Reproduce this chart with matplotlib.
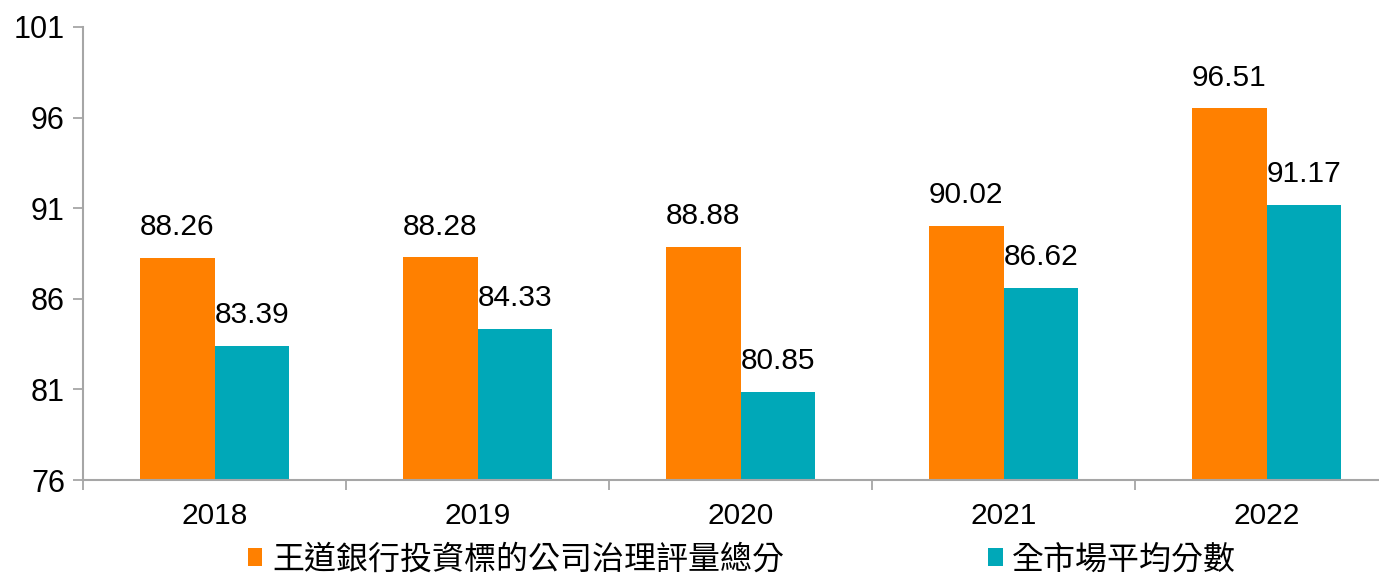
import matplotlib
matplotlib.use("Agg")
import matplotlib.pyplot as plt
from matplotlib.patches import Patch
import numpy as np

years = ["2018", "2019", "2020", "2021", "2022"]
bank_scores = [88.26, 88.28, 88.88, 90.02, 96.51]
market_scores = [83.39, 84.33, 80.85, 86.62, 91.17]
series_names = ["王道銀行投資標的公司治理評量總分", "全市場平均分數"]
yticks = [76, 81, 86, 91, 96, 101]

plt.rcParams['font.family'] = ['Liberation Sans', 'Noto Sans CJK TC', 'DejaVu Sans']

orange = "#FF8000"
teal = "#00A8B8"
grey = "#A6A6A6"

fig = plt.figure(figsize=(13.79, 5.76), dpi=100)
ax = fig.add_axes([83/1379, 96/576, (1398-83)/1379, (480-27)/576])

x = np.arange(len(years))
w = 0.285
ax.bar(x - w/2, [v - 76 for v in bank_scores], w, bottom=76, color=orange)
ax.bar(x + w/2, [v - 76 for v in market_scores], w, bottom=76, color=teal)

for xs, vals in ((x - w/2, bank_scores), (x + w/2, market_scores)):
    for xi, v in zip(xs, vals):
        ax.annotate(f"{v:.2f}", (xi, v), xytext=(0, 12), textcoords="offset points",
                    ha="center", va="bottom", fontsize=21.5, color="#000000")

ax.set_xlim(-0.5, len(years) - 0.5)
ax.set_ylim(76, 101)
ax.set_yticks(yticks)
ax.set_yticklabels([str(t) for t in yticks], fontsize=22)
ax.set_xticks(x)
ax.set_xticklabels(years, fontsize=21.5)
ax.set_xticks(np.arange(len(years) + 1) - 0.5, minor=True)
ax.tick_params(axis="x", which="major", length=0, pad=16)
ax.tick_params(axis="x", which="minor", length=7, color=grey, width=1.3, direction="out")
ax.tick_params(axis="y", length=7, color=grey, width=1.3, direction="out", pad=6)

for s in ("top", "right"):
    ax.spines[s].set_visible(False)
for s in ("left", "bottom"):
    ax.spines[s].set_color(grey)
    ax.spines[s].set_linewidth(1.5)

handles = [Patch(facecolor=orange), Patch(facecolor=teal)]
fig.legend(handles, series_names, loc="center left", bbox_to_anchor=(248/1379, 16/576),
           ncol=2, frameon=False, fontsize=23, handlelength=0.45, handleheight=0.45,
           handletextpad=0.3, columnspacing=6.4, borderaxespad=0, borderpad=0)

fig.savefig("out.png", dpi=100)
